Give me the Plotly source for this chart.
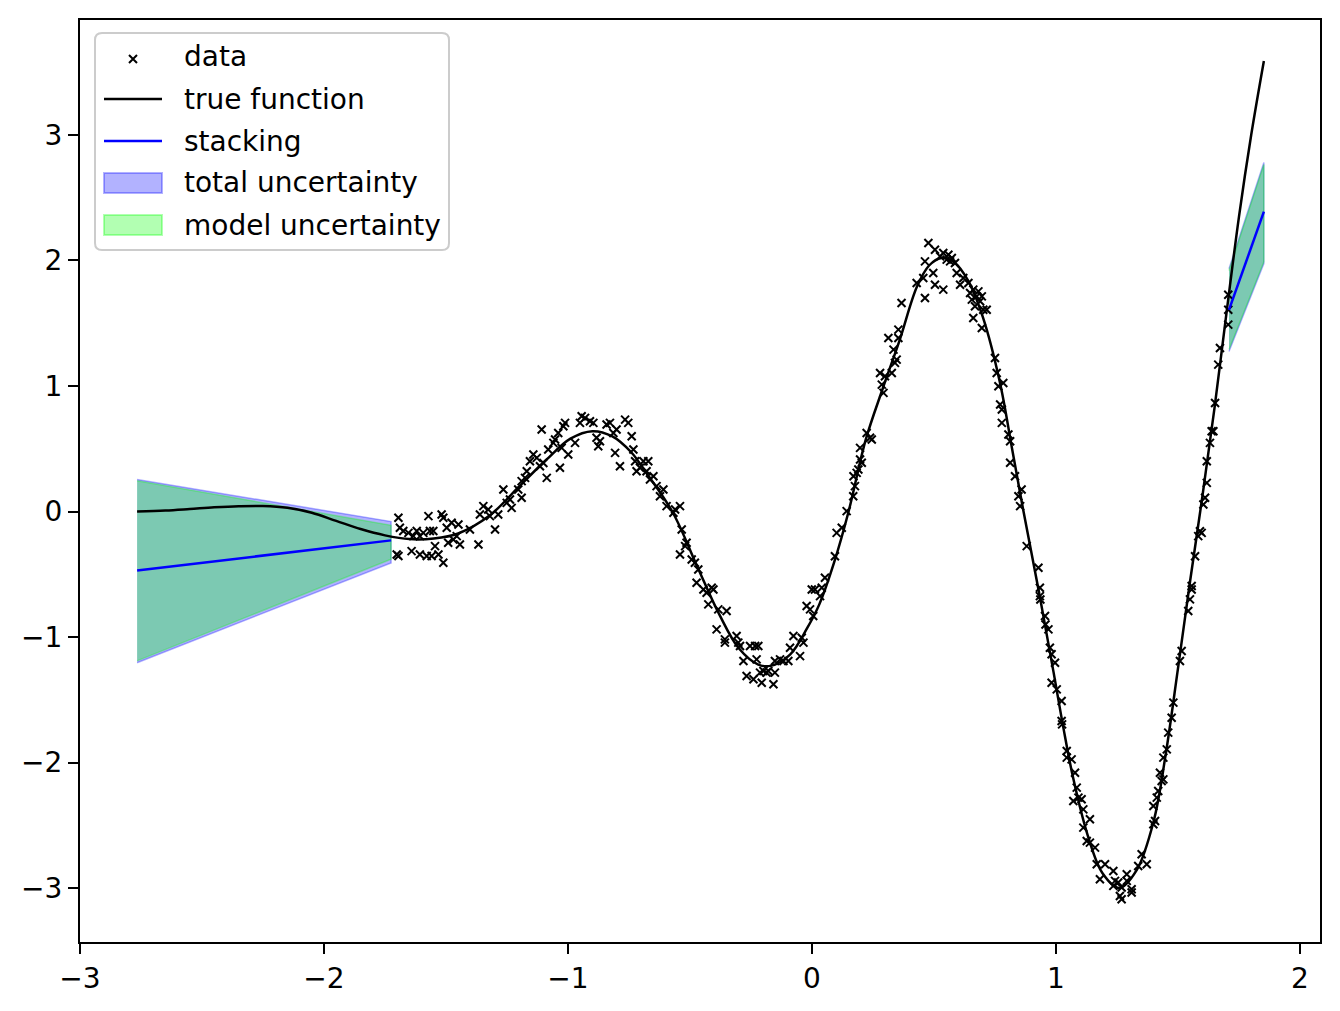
import plotly.graph_objects as go

# true function
true_x = [-2.766, -2.65, -2.55, -2.45, -2.35, -2.25, -2.15, -2.05, -1.95, -1.85,
          -1.75, -1.65, -1.55, -1.45, -1.32, -1.20, -1.09, -0.99, -0.90, -0.82,
          -0.74, -0.68, -0.57, -0.47, -0.38, -0.30, -0.22, -0.17, -0.09, -0.02,
          0.03, 0.09, 0.15, 0.22, 0.29, 0.36, 0.43, 0.48, 0.53, 0.58,
          0.64, 0.70, 0.77, 0.82, 0.865, 0.93, 0.99, 1.03, 1.07, 1.13,
          1.19, 1.26, 1.33, 1.40, 1.45, 1.50, 1.55, 1.60, 1.65, 1.70,
          1.75, 1.80, 1.852]
true_y = [0.00, 0.008, 0.02, 0.033, 0.042, 0.044, 0.03, -0.01, -0.075, -0.14,
          -0.19, -0.22, -0.215, -0.175, -0.03, 0.20, 0.41, 0.58, 0.64, 0.60,
          0.47, 0.31, -0.01, -0.44, -0.82, -1.09, -1.22, -1.23, -1.14, -0.93,
          -0.74, -0.41, 0.0, 0.57, 0.98, 1.37, 1.79, 1.96, 2.02, 1.99,
          1.84, 1.55, 1.03, 0.50, 0.02, -0.64, -1.28, -1.72, -2.12, -2.58,
          -2.88, -3.00, -2.86, -2.47, -1.93, -1.25, -0.55, 0.12, 0.83, 1.60,
          2.35, 3.00, 3.59]

# noisy observations
data_x = [-1.695, -1.695, -1.702, -1.689, -1.675, -1.654, -1.634, -1.641, -1.620, -1.607,
          -1.607, -1.593, -1.579, -1.572, -1.566, -1.559, -1.552, -1.545, -1.531, -1.518,
          -1.511, -1.511, -1.497, -1.491, -1.477, -1.470, -1.456, -1.449, -1.443, -1.402,
          -1.367, -1.361, -1.347, -1.327, -1.320, -1.299, -1.286, -1.265, -1.251, -1.238,
          -1.231, -1.204, -1.190, -1.190, -1.176, -1.169, -1.156, -1.142, -1.128, -1.115,
          -1.108, -1.101, -1.087, -1.081, -1.060, -1.053, -1.040, -1.033, -1.026, -1.019,
          -1.012, -0.999, -0.971, -0.951, -0.944, -0.930, -0.910, -0.896, -0.883, -0.876,
          -0.869, -0.842, -0.828, -0.814, -0.807, -0.801, -0.787, -0.766, -0.753, -0.739,
          -0.732, -0.725, -0.719, -0.705, -0.691, -0.678, -0.671, -0.664, -0.650, -0.637,
          -0.623, -0.609, -0.596, -0.568, -0.561, -0.541, -0.534, -0.541, -0.520, -0.514,
          -0.493, -0.480, -0.473, -0.466,
          -0.445, -0.432, -0.425, -0.411, -0.404, -0.384, -0.391, -0.357, -0.357, -0.350,
          -0.309, -0.302, -0.295, -0.281, -0.268, -0.254, -0.233, -0.227, -0.240, -0.220,
          -0.213, -0.206, -0.199, -0.186, -0.179, -0.158, -0.152, -0.152, -0.131, -0.117,
          -0.097, -0.090, -0.076, -0.049, -0.042, -0.035, -0.022, -0.008, -0.001, 0.005,
          0.012, 0.033, 0.040, 0.053, 0.094, 0.101, 0.122, 0.142, 0.169, 0.176,
          0.170, 0.183, 0.190, 0.197, 0.204, 0.197, 0.224, 0.238, 0.245, 0.279,
          0.286, 0.293, 0.299, 0.313, 0.327, 0.334, 0.340, 0.347, 0.354, 0.354,
          0.367, 0.429, 0.456, 0.463, 0.463, 0.477, 0.497, 0.504, 0.504, 0.538,
          0.525, 0.538, 0.552, 0.559, 0.566, 0.573, 0.586, 0.593, 0.607, 0.620,
          0.641, 0.648, 0.655, 0.661, 0.661, 0.668, 0.675, 0.682, 0.689, 0.696,
          0.696, 0.702, 0.716, 0.750, 0.757, 0.764, 0.771, 0.778, 0.778, 0.784,
          0.805, 0.812, 0.812, 0.832, 0.846, 0.853,
          0.859, 0.880, 0.928, 0.934, 0.934, 0.936, 0.955, 0.957, 0.969, 0.975,
          0.982, 0.996, 0.982, 1.003, 1.023, 1.023, 1.025,
          1.044, 1.044, 1.064, 1.078, 1.085, 1.092, 1.071, 1.105, 1.112, 1.139,
          1.112, 1.126, 1.139, 1.160, 1.167, 1.180, 1.201, 1.235, 1.235, 1.242,
          1.255, 1.262, 1.269, 1.269, 1.290, 1.290, 1.310, 1.310, 1.337, 1.351,
          1.372, 1.399, 1.406, 1.399, 1.413, 1.419, 1.433, 1.440, 1.426, 1.440,
          1.454, 1.460, 1.474, 1.481,
          1.508, 1.515, 1.542, 1.549, 1.556, 1.556, 1.570, 1.583, 1.597, 1.590,
          1.604, 1.611, 1.618, 1.618, 1.631, 1.638, 1.645, 1.652, 1.665, 1.672,
          1.706, 1.706, 1.706]
data_y = [-0.050, -0.355, -0.342, -0.130, -0.156, -0.170, -0.196, -0.316, -0.156, -0.196,
          -0.342, -0.170, -0.355, -0.037, -0.156, -0.355, -0.156, -0.276, -0.342, -0.024,
          -0.408, -0.050, -0.130, -0.249, -0.090, -0.223, -0.196, -0.103, -0.263, -0.143,
          -0.263, -0.024, 0.043, 0.016, -0.037, -0.143, -0.024, 0.175, 0.069, 0.096,
          0.029, 0.175, 0.109, 0.242, 0.268, 0.321, 0.401, 0.454, 0.427, 0.361,
          0.653, 0.387, 0.268, 0.494, 0.547, 0.573, 0.626, 0.348, 0.507, 0.679,
          0.706, 0.454, 0.547, 0.706, 0.759, 0.746, 0.719, 0.706, 0.587, 0.520,
          0.560, 0.693, 0.706, 0.626, 0.467, 0.653, 0.361, 0.732, 0.706, 0.600,
          0.494, 0.401, 0.321, 0.348, 0.401, 0.321, 0.401, 0.255, 0.281, 0.202,
          0.122, 0.175, 0.043, -0.010, 0.016, 0.043, -0.143, -0.342, -0.276, -0.249,
          -0.382, -0.409, -0.568, -0.462,
          -0.621, -0.647, -0.740, -0.608, -0.621, -0.780, -0.939, -1.019, -1.045, -0.793,
          -0.992, -1.045, -1.072, -1.191, -1.311, -1.072, -1.072, -1.178, -1.337, -1.072,
          -1.284, -1.364, -1.271, -1.284, -1.271, -1.377, -1.284, -1.191, -1.178, -1.191,
          -1.191, -1.085, -0.992, -1.152, -1.006, -1.045, -0.753, -0.780, -0.621, -0.833,
          -0.621, -0.674, -0.608, -0.528, -0.356, -0.170, -0.130, 0.003, 0.122, 0.202,
          0.281, 0.308, 0.334, 0.414, 0.388, 0.507, 0.626, 0.587, 0.573, 1.104,
          1.011, 0.945, 1.077, 1.383, 1.104, 1.290, 1.184, 1.210, 1.383, 1.449,
          1.661, 1.821, 1.861, 1.701, 1.993, 2.139, 1.900, 2.086, 1.807, 1.768,
          2.033, 2.060, 2.007, 2.046, 1.993, 2.020, 1.980, 1.900, 1.807, 1.860,
          1.821, 1.741, 1.688, 1.768, 1.542, 1.635, 1.714, 1.754, 1.675, 1.462,
          1.714, 1.608, 1.608, 1.223, 1.104, 0.998, 0.852, 0.812, 0.706, 1.024,
          0.613, 0.560, 0.388, 0.281, 0.122, 0.043,
          0.175, -0.276, -0.448, -0.608, -0.674, -0.701, -0.833, -0.900, -0.939, -1.085,
          -1.138, -1.205, -1.364, -1.417, -1.510, -1.669, -1.696,
          -1.908, -1.961, -1.975, -2.081, -2.200, -2.280, -2.306, -2.293, -2.373, -2.452,
          -2.519, -2.625, -2.638, -2.678, -2.810, -2.930, -2.810, -2.864, -2.983, -2.943,
          -2.956, -3.063, -3.089, -2.996, -2.890, -2.943, -3.036, -3.010, -2.824, -2.731,
          -2.810, -2.492, -2.466, -2.346, -2.280, -2.227, -2.147, -2.134, -2.081, -1.961,
          -1.895, -1.762, -1.643, -1.523,
          -1.191, -1.112, -0.793, -0.700, -0.621, -0.594, -0.356, -0.196, -0.170, -0.157,
          0.056, 0.109, 0.228, 0.401, 0.547, 0.640, 0.640, 0.865, 1.170, 1.303,
          1.489, 1.608, 1.727]

# stacking prediction outside the data range (left and right pieces)
left_x = [-2.766, -1.725]
left_mean = [-0.47, -0.23]
left_total_lo = [-1.205, -0.41]
left_total_hi = [0.255, -0.08]
left_model_lo = [-1.19, -0.38]
left_model_hi = [0.245, -0.11]

right_x = [1.709, 1.852]
right_mean = [1.606, 2.389]
right_total_lo = [1.275, 1.975]
right_total_hi = [1.935, 2.78]
right_model_lo = [1.29, 1.99]
right_model_hi = [1.92, 2.765]

legend_labels = ["data", "true function", "stacking", "total uncertainty", "model uncertainty"]

BLUE_A = "rgba(0,0,255,0.3)"
GREEN_A = "rgba(0,255,0,0.3)"

fig = go.Figure()

def band(xs, lo, hi, color):
    fig.add_trace(go.Scatter(
        x=xs + xs[::-1], y=hi + lo[::-1], fill="toself", mode="lines",
        fillcolor=color, line=dict(color=color, width=1.5), showlegend=False))

band(left_x, left_total_lo, left_total_hi, BLUE_A)
band(right_x, right_total_lo, right_total_hi, BLUE_A)
band(left_x, left_model_lo, left_model_hi, GREEN_A)
band(right_x, right_model_lo, right_model_hi, GREEN_A)

fig.add_trace(go.Scatter(x=data_x, y=data_y, mode="markers", showlegend=False,
                         marker=dict(symbol="x-thin", size=8, color="black",
                                     line=dict(color="black", width=2))))
fig.add_trace(go.Scatter(x=true_x, y=true_y, mode="lines", showlegend=False,
                         line=dict(color="black", width=2.5, shape="spline")))
for xs, ys in [(left_x, left_mean), (right_x, right_mean)]:
    fig.add_trace(go.Scatter(x=xs, y=ys, mode="lines", showlegend=False,
                             line=dict(color="blue", width=2.5)))

# matplotlib-style legend box drawn by hand (pixel layout -> paper coords)
L, T, W, H = 80, 20, 1240, 922
def px(v):
    return (v - L) / W
def py(v):
    return 1 - (v - T) / H

bx0, bx1, by0, by1, r = 95, 449, 33, 250, 7
box = (f"M{px(bx0 + r)},{py(by0)} L{px(bx1 - r)},{py(by0)} "
       f"Q{px(bx1)},{py(by0)} {px(bx1)},{py(by0 + r)} L{px(bx1)},{py(by1 - r)} "
       f"Q{px(bx1)},{py(by1)} {px(bx1 - r)},{py(by1)} L{px(bx0 + r)},{py(by1)} "
       f"Q{px(bx0)},{py(by1)} {px(bx0)},{py(by1 - r)} L{px(bx0)},{py(by0 + r)} "
       f"Q{px(bx0)},{py(by0)} {px(bx0 + r)},{py(by0)} Z")
shapes = [dict(type="path", xref="paper", yref="paper", path=box,
               fillcolor="rgba(255,255,255,0.8)", line=dict(color="#cccccc", width=2))]
annotations = []
h0, h1, row0, step = 104, 162, 57, 42
rows = [row0 + step * i for i in range(len(legend_labels))]
hm, m = (h0 + h1) / 2, 4
shapes.append(dict(type="path", xref="paper", yref="paper",
                   path=f"M{px(hm - m)},{py(rows[0] + 2 - m)} L{px(hm + m)},{py(rows[0] + 2 + m)} "
                        f"M{px(hm - m)},{py(rows[0] + 2 + m)} L{px(hm + m)},{py(rows[0] + 2 - m)}",
                   line=dict(color="black", width=2)))
for row, col in [(rows[1], "black"), (rows[2], "blue")]:
    shapes.append(dict(type="line", xref="paper", yref="paper",
                       x0=px(h0), x1=px(h1), y0=py(row), y1=py(row),
                       line=dict(color=col, width=2.5)))
for row, col in [(rows[3], BLUE_A), (rows[4], GREEN_A)]:
    shapes.append(dict(type="rect", xref="paper", yref="paper",
                       x0=px(h0), x1=px(h1), y0=py(row - 10), y1=py(row + 10),
                       fillcolor=col, line=dict(color=col, width=2)))
for row, label in zip(rows, legend_labels):
    annotations.append(dict(text=label, xref="paper", yref="paper", x=px(182),
                            y=py(row), xanchor="left", yanchor="middle",
                            showarrow=False, font=dict(size=28)))

axis = dict(showgrid=False, zeroline=False, showline=True, linecolor="black",
            linewidth=2, mirror=True, ticks="outside", ticklen=10, tickwidth=2,
            tickcolor="black", tickfont=dict(size=28))
fig.update_xaxes(range=[-3, 2.082], tickvals=[-3, -2, -1, 0, 1, 2],
                 ticktext=["\u22123", "\u22122", "\u22121", "0", "1", "2"], **axis)
fig.update_yaxes(range=[-3.43, 3.916], tickvals=[-3, -2, -1, 0, 1, 2, 3],
                 ticktext=["\u22123", "\u22122", "\u22121", "0", "1", "2", "3"], **axis)

fig.update_layout(
    width=1340, height=1011,
    margin=dict(l=80, r=20, t=20, b=69),
    plot_bgcolor="white", paper_bgcolor="white",
    font=dict(family="DejaVu Sans", size=28, color="black"),
    showlegend=False, shapes=shapes, annotations=annotations,
)

fig.write_html("out.html", config={"displayModeBar": False},
               post_script="document.body.style.margin='0';")
